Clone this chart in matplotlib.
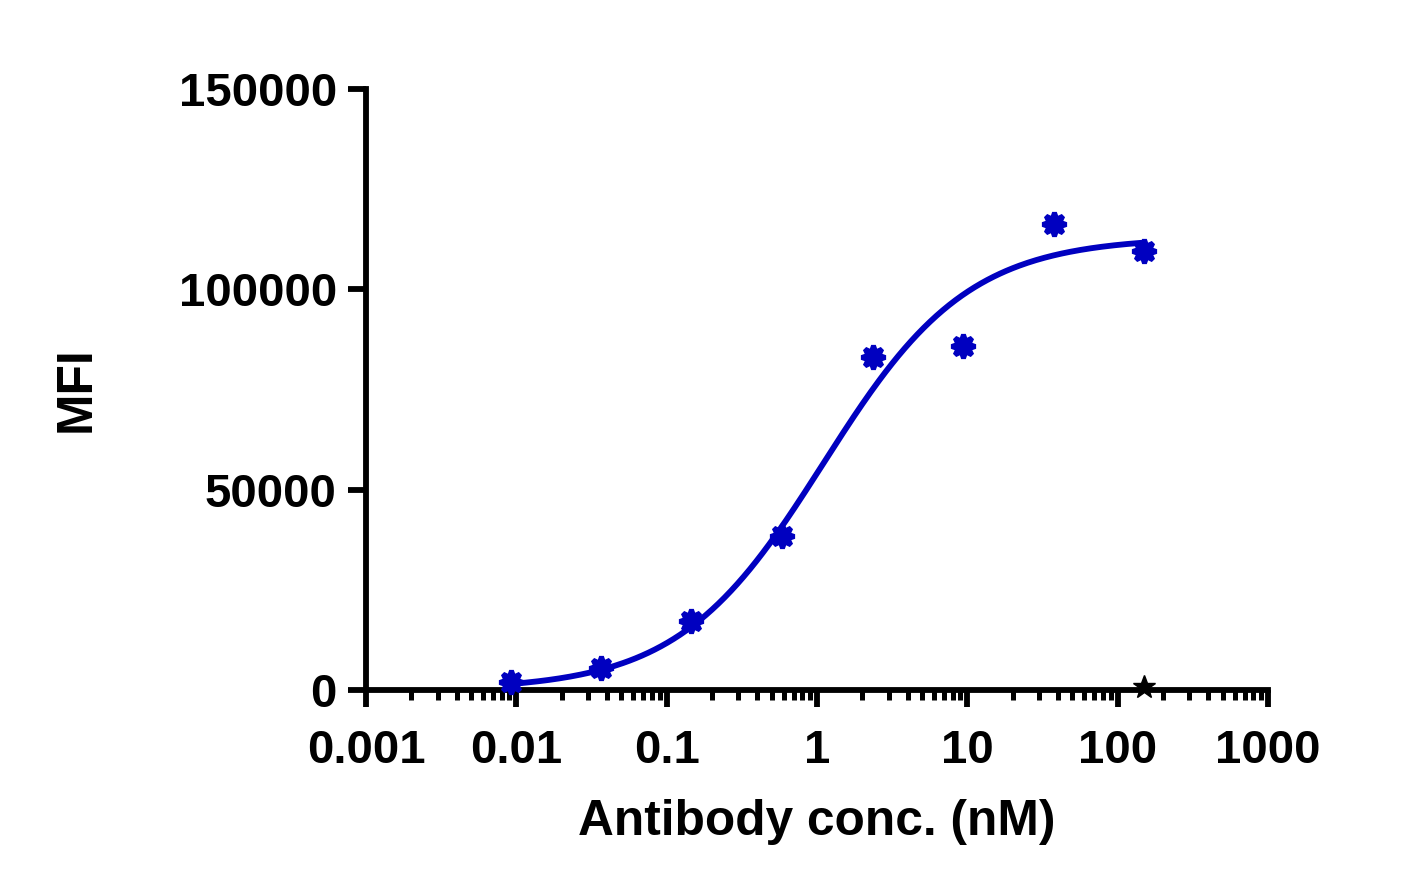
import numpy as np
import matplotlib
matplotlib.use("Agg")
import matplotlib.pyplot as plt

plt.rcParams['font.family'] = ['Liberation Sans', 'DejaVu Sans']
plt.rcParams['font.weight'] = 'bold'

# measured data (4-fold dilution series)
conc_nM = [0.00916, 0.0366, 0.146, 0.586, 2.34, 9.375, 37.5, 150]
mfi = [2000, 5500, 17200, 38400, 83100, 85800, 116300, 109600]

# control (isotype) point
ctrl_conc = [150]
ctrl_mfi = [800]

# 4PL fit parameters
fit_top = 113000
fit_bottom = 0
fit_ec50 = 1.1
fit_hill = 0.9

blue = '#0000C0'

fig = plt.figure(figsize=(14.21, 8.92), dpi=100)
ax = fig.add_axes([366 / 1421, 1 - 690 / 892, 902 / 1421, 601 / 892])

xfit = np.logspace(np.log10(conc_nM[0]), np.log10(conc_nM[-1]), 300)
yfit = fit_bottom + (fit_top - fit_bottom) / (1 + (fit_ec50 / xfit) ** fit_hill)
ax.plot(xfit, yfit, color=blue, lw=4.2, solid_capstyle='round', zorder=3)

ax.plot(conc_nM, mfi, ls='none', marker=(8, 1, 0), ms=17, color=blue,
        mec=blue, mew=3.5, clip_on=False, zorder=4)
ax.plot(ctrl_conc, ctrl_mfi, ls='none', marker='*', ms=17, color='black',
        clip_on=False, zorder=5)

ax.set_xscale('log')
ax.set_xlim(0.001, 1000)
ax.set_ylim(0, 150000)
ax.set_yticks([0, 50000, 100000, 150000])
ax.set_xticks([0.001, 0.01, 0.1, 1, 10, 100, 1000])
ax.set_xticklabels(['0.001', '0.01', '0.1', '1', '10', '100', '1000'])
ax.set_yticklabels(['0', '50000', '100000', '150000'])
ax.xaxis.set_minor_locator(matplotlib.ticker.LogLocator(base=10, subs=np.arange(2, 10), numticks=20))
ax.xaxis.set_minor_formatter(matplotlib.ticker.NullFormatter())

for s in ['top', 'right']:
    ax.spines[s].set_visible(False)
for s in ['left', 'bottom']:
    ax.spines[s].set_linewidth(4.2)

ax.tick_params(axis='y', which='major', length=13, width=4.2, pad=8, labelsize=34)
ax.tick_params(axis='x', which='major', length=12, width=4.2, pad=16, labelsize=34)
ax.tick_params(axis='x', which='minor', length=7, width=3.6)

ax.set_xlabel('Antibody conc. (nM)', fontsize=35.7, fontweight='bold', labelpad=19)
ax.set_ylabel('MFI', fontsize=35.7, fontweight='bold', labelpad=57)

fig.savefig('out.png', dpi=100)
